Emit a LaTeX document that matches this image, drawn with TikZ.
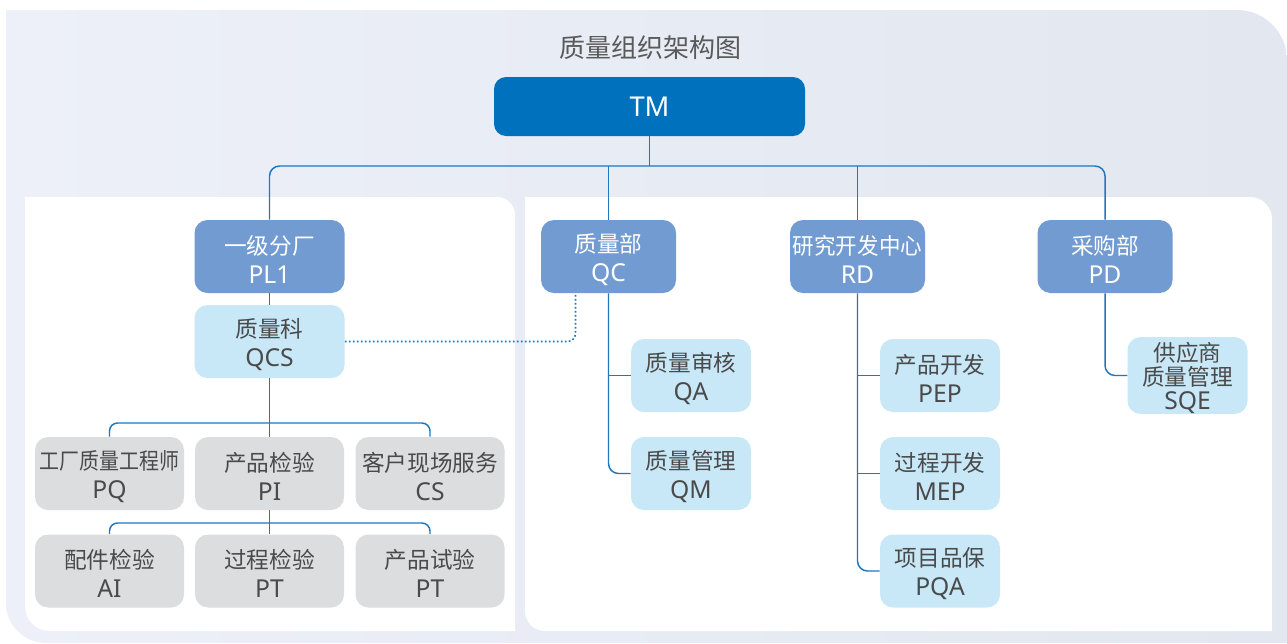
\documentclass[tikz,border=0pt]{standalone}
\usepackage{fontspec}
\usepackage{graphicx}
\setmainfont{Noto Sans}
\newfontfamily\cjk{Noto Sans CJK SC}
\definecolor{tmblue}{HTML}{0071BC}
\definecolor{midblue}{HTML}{729BD1}
\definecolor{lightblue}{HTML}{C8E8F8}
\definecolor{boxgray}{HTML}{DCDDDF}
\definecolor{lineblue}{HTML}{1F77BE}
\definecolor{txt}{HTML}{4A4A4A}
\definecolor{titlegray}{HTML}{5A5A5A}
\definecolor{bgleft}{HTML}{EDF0F8}
\definecolor{bgright}{HTML}{E2E7F0}
\newcommand\lat{\fontsize{18.5}{21.75}\selectfont}
\newcommand\hs{\rule{0pt}{18.5pt}}
\newcommand\tw[2]{{\cjk\hs #1}\\{\lat #2}}
\begin{document}
\begin{tikzpicture}[x=0.75pt,y=-0.75pt,
  box/.style={rounded corners=9.75pt, inner sep=0pt, align=center,
    font=\fontsize{17}{21.75}\selectfont, minimum height=54.75pt},
  lvtwo/.style={box, fill=midblue, text=white, minimum width=101.25pt},
  lbox/.style={box, fill=lightblue, text=txt, minimum width=90pt},
  gbox/.style={box, fill=boxgray, text=txt, minimum width=111.75pt},
  conn/.style={draw=lineblue, line width=1.1pt},
  dotline/.style={draw=lineblue, line width=1.2pt, dash pattern=on 1.3pt off 1.7pt}]
\useasboundingbox (0,0) rectangle (1287,643);
\fill[white] (0,0) rectangle (1287,643);
% outer background
\shade[left color=bgleft, right color=bgright]
  (6,10) -- (1237,10) arc[start angle=-90, end angle=0, radius=50]
  -- (1287,643) -- (46,643) arc[start angle=90, end angle=180, radius=40] -- cycle;
% white panels
\fill[white] (25,197) -- (497,197) arc[start angle=-90, end angle=0, radius=18]
  -- (515,631) -- (50,631) arc[start angle=90, end angle=180, radius=25] -- cycle;
\fill[white] (525,197) -- (1250,197) arc[start angle=-90, end angle=0, radius=22]
  -- (1272,631) -- (545,631) arc[start angle=90, end angle=180, radius=20] -- cycle;

% title
\node[text=titlegray, font=\cjk\fontsize{19.5}{22}\selectfont] (title) at (650,48) {质量组织架构图};

% top
\node[rounded corners=9pt, fill=tmblue, text=white, minimum width=233.25pt, minimum height=44.25pt,
  inner sep=0pt, font=\fontsize{20.5}{24}\selectfont\bfseries] (TM) at (649.5,106.5) {TM};

% level 2
\node[lvtwo, minimum width=112.5pt] (PL1) at (269.5,256.5) {\tw{一级分厂}{PL1}};
\node[lvtwo] (QC) at (608.5,256.5) {\tw{质量部}{QC}};
\node[lvtwo] (RD) at (857.5,256.5) {{\cjk\hs\scalebox{0.95}[1]{研究开发中心}}\\{\lat RD}};
\node[lvtwo] (PD) at (1105,256.5) {\tw{采购部}{PD}};

% plant
\node[box, fill=lightblue, text=txt, minimum width=112.5pt] (QCS) at (269.5,341.5) {\tw{质量科}{QCS}};
\node[gbox] (PQ) at (109.5,473.5) {{\cjk\hs\scalebox{0.88}[1]{工厂质量工程师}}\\{\lat PQ}};
\node[gbox] (PI) at (269.5,473.5) {\tw{产品检验}{PI}};
\node[gbox] (CS) at (430,473.5) {\tw{客户现场服务}{CS}};
\node[gbox] (AI) at (109.5,571) {\tw{配件检验}{AI}};
\node[gbox] (PT1) at (269.5,571) {\tw{过程检验}{PT}};
\node[gbox] (PT2) at (430,571) {\tw{产品试验}{PT}};

% QC children
\node[lbox] (QA) at (691,375.5) {\tw{质量审核}{QA}};
\node[lbox] (QM) at (691,473.5) {\tw{质量管理}{QM}};
% RD children
\node[lbox] (PEP) at (940,375.5) {\tw{产品开发}{PEP}};
\node[lbox] (MEP) at (940,473.5) {\tw{过程开发}{MEP}};
\node[lbox] (PQA) at (940,571) {\tw{项目品保}{PQA}};
% PD child
\node[lbox, font=\fontsize{17}{18}\selectfont] (SQE) at (1187.5,375.5)
  {{\cjk\hs 供应商}\\{\cjk 质量管理}\\{\lat SQE}};

% connectors
\coordinate (bus) at (650,166);
\coordinate (b1) at (270,423);
\coordinate (b2) at (270,523);
\draw[conn, rounded corners=7.5pt] (PL1.north) -- (PL1.north |- bus) -- (PD.north |- bus) -- (PD.north);
\draw[conn] (TM.south) -- (TM.south |- bus);
\draw[conn] (QC.north) -- (QC.north |- bus);
\draw[conn] (RD.north) -- (RD.north |- bus);
\draw[conn] (PL1.south) -- (QCS.north);
\draw[conn] (QCS.south) -- (PI.north);
\draw[conn, rounded corners=6pt] (PQ.north) -- (PQ.north |- b1) -- (CS.north |- b1) -- (CS.north);
\draw[conn] (PI.south) -- (PT1.north);
\draw[conn, rounded corners=6pt] (AI.north) -- (AI.north |- b2) -- (PT2.north |- b2) -- (PT2.north);
\draw[conn, rounded corners=7.5pt] (QC.south) |- (QM.west);
\draw[conn] (QC.south |- QA.west) -- (QA.west);
\draw[conn, rounded corners=7.5pt] (RD.south) |- (PQA.west);
\draw[conn] (RD.south |- PEP.west) -- (PEP.west);
\draw[conn] (RD.south |- MEP.west) -- (MEP.west);
\draw[conn, rounded corners=7.5pt] (PD.south) |- (SQE.west);
\draw[dotline, rounded corners=6pt] (QCS.east) -| ([xshift=-24.75pt]QC.south);
\end{tikzpicture}
\end{document}
